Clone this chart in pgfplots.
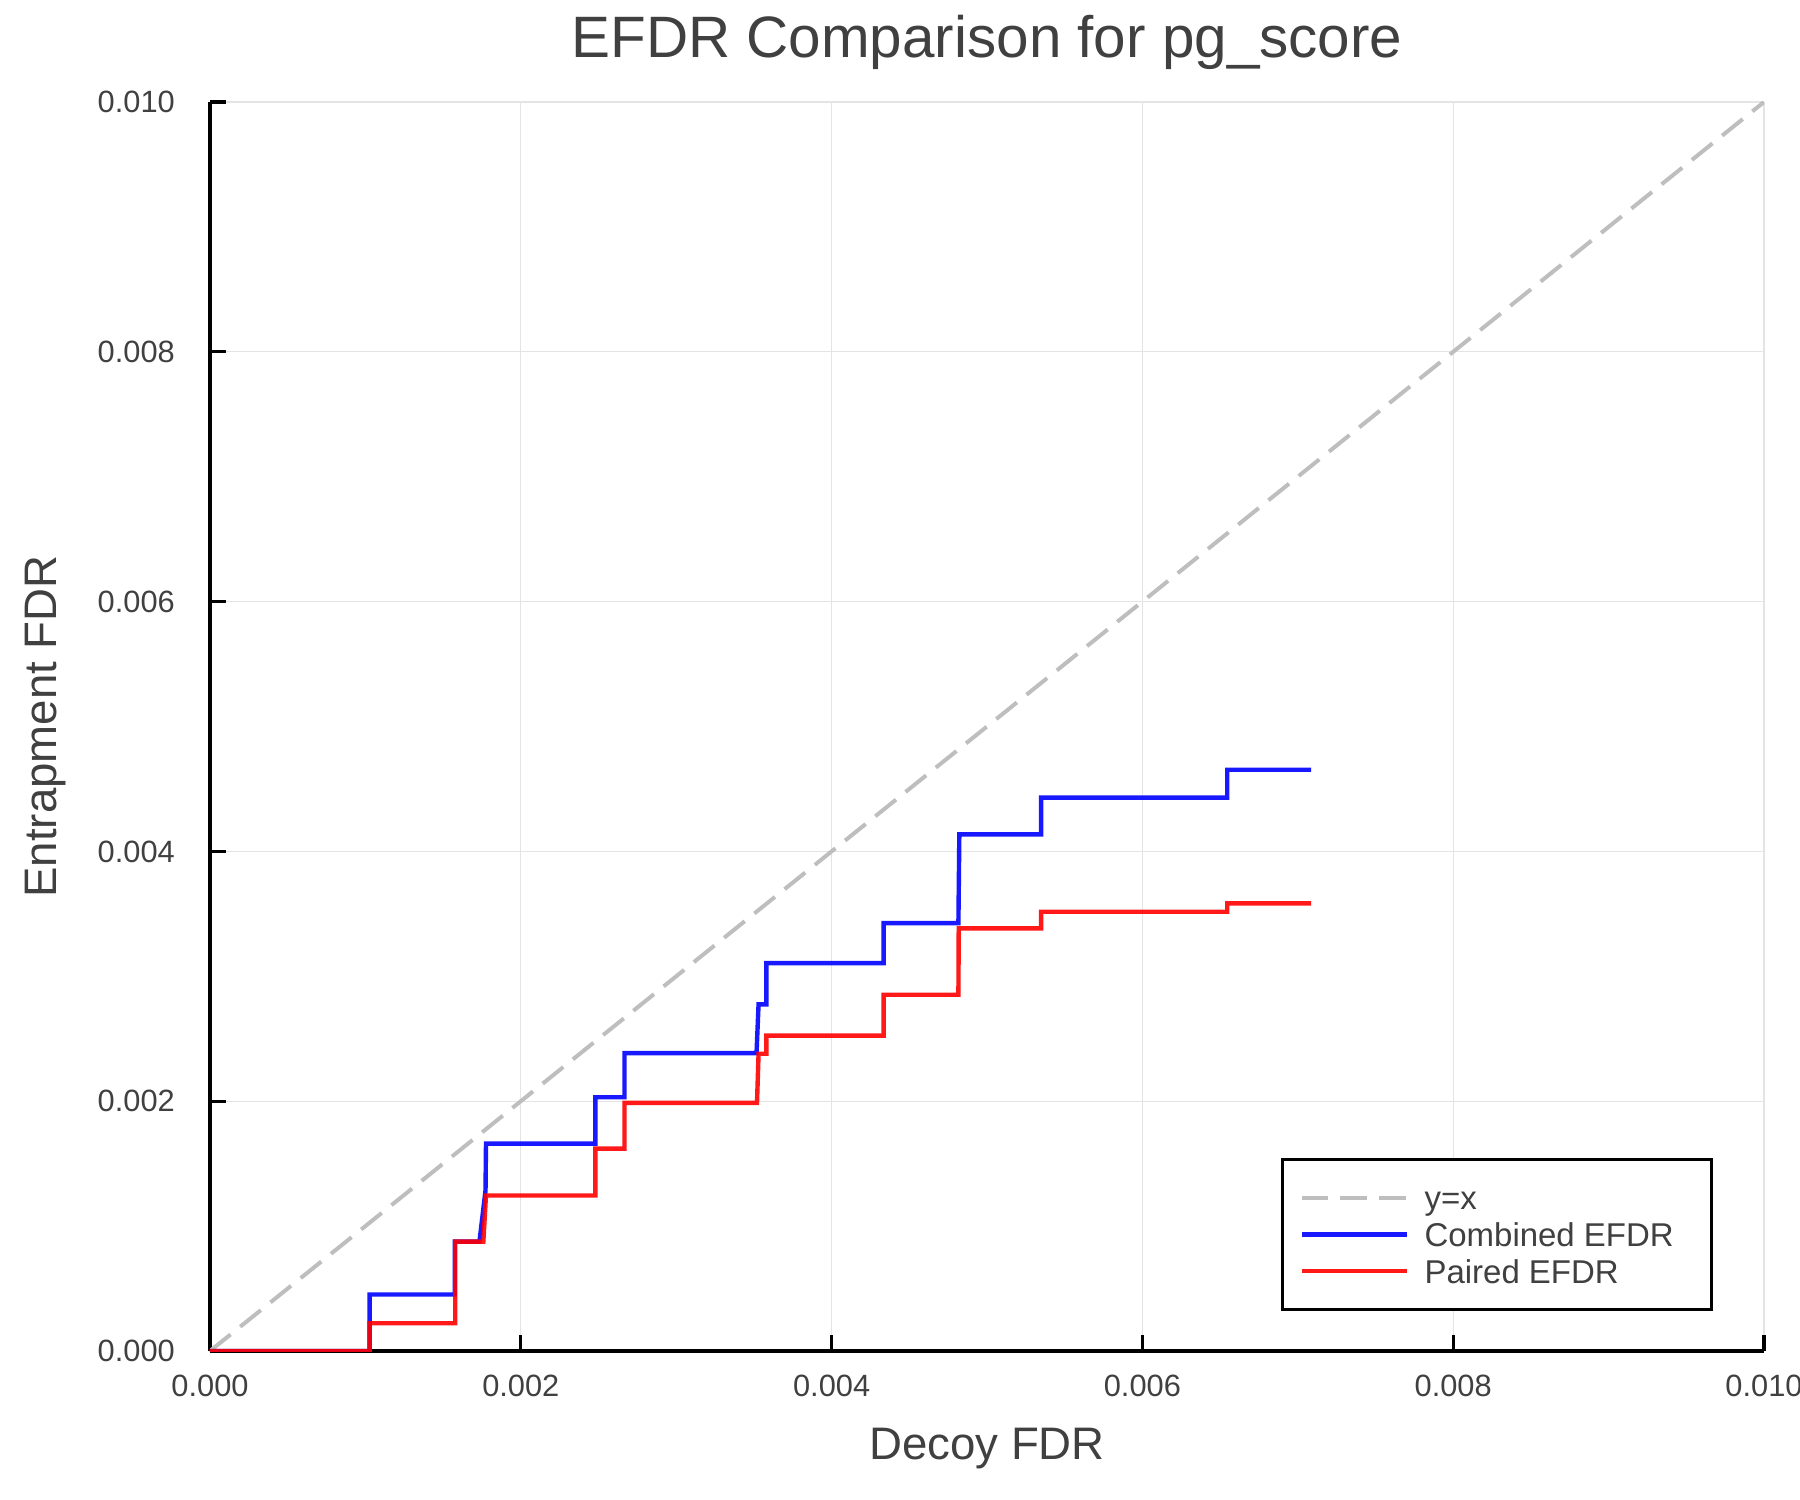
\documentclass[border=0pt]{standalone}
\usepackage{pgfplots}
\pgfplotsset{compat=1.18}
\usepackage{fontspec}
\setmainfont{Liberation Sans}
\definecolor{txt}{RGB}{64,64,64}
\definecolor{gridc}{RGB}{228,228,228}
\definecolor{dashc}{RGB}{190,190,190}
\definecolor{lblue}{RGB}{0,0,255}
\definecolor{lred}{RGB}{255,0,0}

\begin{document}
\begin{tikzpicture}
\useasboundingbox (-52.5pt,-37.25pt) rectangle (397.5pt,337.75pt);
\begin{axis}[
  at={(0pt,0pt)}, anchor=south west,
  scale only axis, width=388.5pt, height=312.25pt,
  xmin=0, xmax=0.01, ymin=0, ymax=0.01,
  axis lines*=left,
  axis line style={black, line width=0.78pt},
  xtick={0,0.002,0.004,0.006,0.008,0.01},
  ytick={0,0.002,0.004,0.006,0.008,0.01},
  scaled ticks=false,
  tick align=inside,
  major tick length=4pt,
  every tick/.style={black, line width=0.78pt},
  grid=major,
  major grid style={gridc, line width=0.3pt},
  tick label style={font=\fontsize{7.7}{9}\selectfont, text=txt},
  xticklabel style={anchor=north, inner sep=0pt, yshift=-5.75pt},
  yticklabel style={anchor=east, inner sep=0pt, xshift=-8.6pt},
  /pgf/number format/.cd, fixed, fixed zerofill, precision=3, assume math mode=true,
  /pgfplots/.cd,
  title={EFDR Comparison for pg\_score},
  title style={at={([yshift=5.1pt]axis description cs:0.5,1)}, anchor=base, font=\fontsize{14.6}{17}\selectfont, text=txt, inner sep=0pt},
  xlabel={Decoy FDR},
  xlabel style={at={([yshift=-27.1pt]axis description cs:0.5,0)}, anchor=base, font=\fontsize{11.4}{13}\selectfont, text=txt, inner sep=0pt},
  ylabel={Entrapment FDR},
  ylabel style={at={([xshift=-38.4pt]axis description cs:0,0.5)}, anchor=base, font=\fontsize{11.4}{13}\selectfont, text=txt, inner sep=0pt},
  legend style={at={([xshift=-12.8pt,yshift=10.0pt]axis description cs:1,0)}, anchor=south east,
    draw=black, line width=0.7pt, inner xsep=4.2pt, inner ysep=5pt,
    font=\fontsize{8.24}{9.2}\selectfont, text=txt,
    nodes={inner sep=0pt, text height=7.55pt, text depth=1.65pt},
    row sep=0pt, column sep=3.9pt},
  legend cell align=left,
  legend image code/.code={\draw[#1] plot coordinates {(0pt,0pt) (26.3pt,0pt)};},
]
\addplot[dashc, line width=1pt, dash pattern=on 6.6pt off 3.1pt] coordinates {(0,0) (0.01,0.01)};
\addlegendentry{\makebox[67.5pt][l]{y=x}}

\addplot[lblue, line width=1.1pt, opacity=0.9] coordinates {
(0,0) (0.001027,0) (0.001027,0.000452) (0.001575,0.000452) (0.001575,0.000876)
(0.001734,0.000876) (0.001773,0.001285) (0.001776,0.00166) (0.00248,0.00166)
(0.00248,0.002032) (0.002667,0.002032) (0.002667,0.002385) (0.003517,0.002385)
(0.00353,0.002775) (0.00358,0.002775) (0.00358,0.003106) (0.004335,0.003106)
(0.004335,0.003426) (0.004816,0.003426) (0.004822,0.004136) (0.005348,0.004136)
(0.005348,0.00443) (0.006546,0.00443) (0.006546,0.004654) (0.007086,0.004654)
};
\addlegendentry{\makebox[67.5pt][l]{Combined EFDR}}

\addplot[lred, line width=1.1pt, opacity=0.9] coordinates {
(0,0) (0.001027,0) (0.001027,0.000222) (0.001578,0.000222) (0.001578,0.000876)
(0.001759,0.000876) (0.001776,0.001245) (0.00248,0.001245) (0.00248,0.00162)
(0.002667,0.00162) (0.002667,0.001987) (0.00352,0.001987) (0.00353,0.00238)
(0.00358,0.00238) (0.00358,0.002525) (0.004335,0.002525) (0.004335,0.002852)
(0.004816,0.002852) (0.004818,0.003384) (0.005348,0.003384) (0.005348,0.003517)
(0.006546,0.003517) (0.006546,0.003584) (0.007086,0.003584)
};
\addlegendentry{\makebox[67.5pt][l]{Paired EFDR}}
\end{axis}
\end{tikzpicture}
\end{document}
